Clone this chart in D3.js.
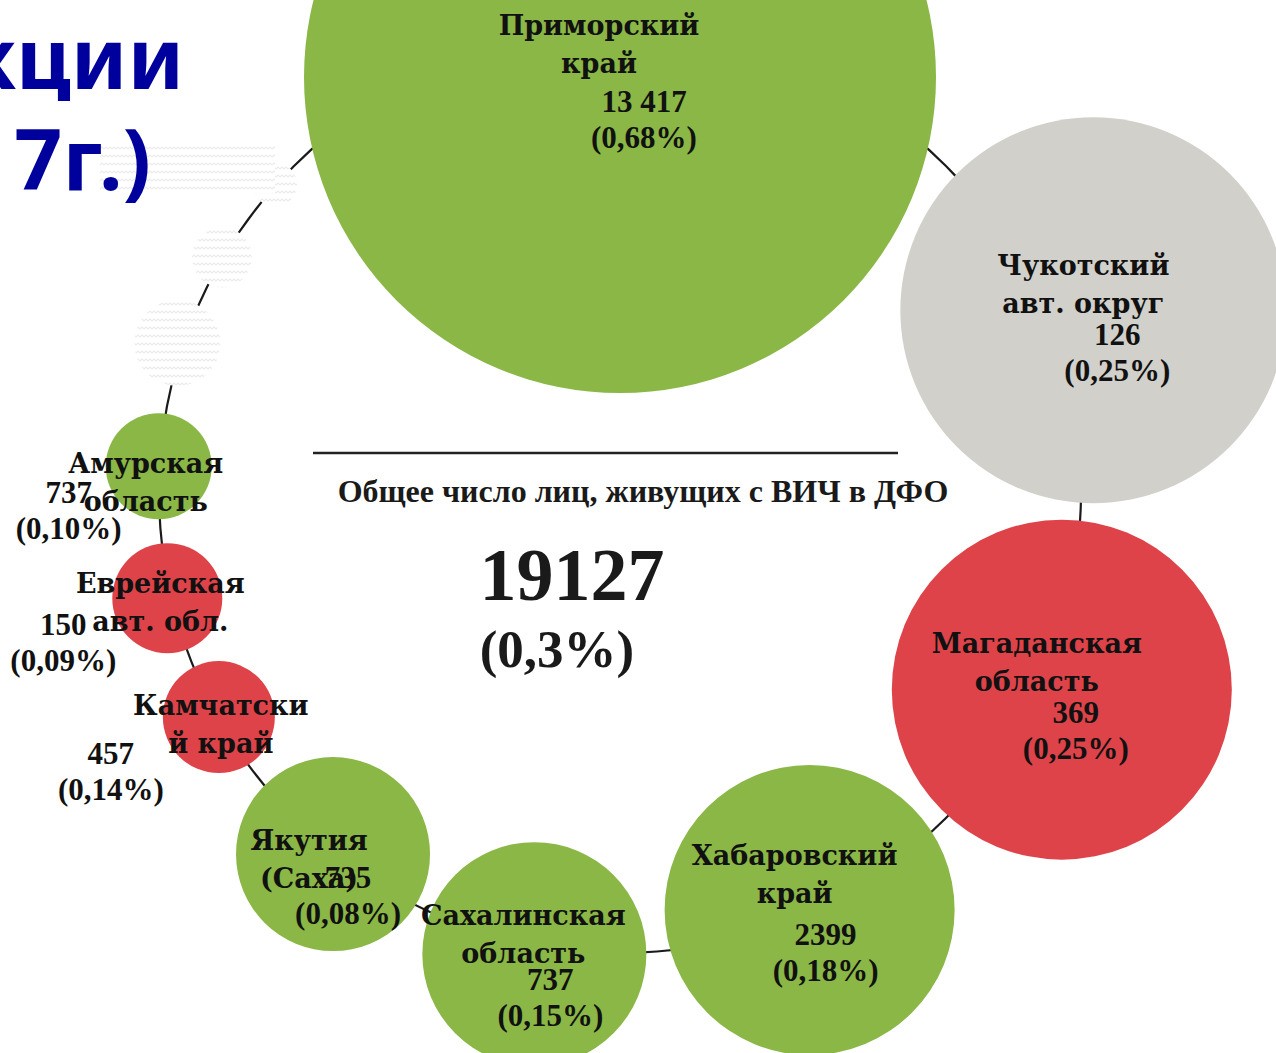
<!DOCTYPE html>
<html>
<head>
<meta charset="utf-8">
<script src="https://cdn.jsdelivr.net/npm/d3@7"></script>
<style>
  html, body { margin: 0; padding: 0; background: #fff; overflow: hidden; }
  svg { display: block; }
</style>
</head>
<body>
<svg id="chart"></svg>
<script>
// Data: regions of the Far Eastern Federal District (ДФО)
const nameLines = [
  ["Приморский", "край"],
  ["Чукотский", "авт. округ"],
  ["Магаданская", "область"],
  ["Хабаровский", "край"],
  ["Сахалинская", "область"],
  ["Якутия", "(Саха)"],
  ["Камчатски", "й край"],
  ["Еврейская", "авт. обл."],
  ["Амурская", "область"]
];
const hivCount = [13417, 126, 369, 2399, 737, 735, 457, 150, 737];
const hivShare = [0.68, 0.25, 0.25, 0.18, 0.15, 0.08, 0.14, 0.09, 0.10];
const level = ["выше", "нет", "ниже", "выше", "выше", "выше", "ниже", "ниже", "выше"];

const totalCount = 19127;
const totalShare = 0.3;
const totalLabel = "Общее число лиц, живущих с ВИЧ в ДФО";
const titleLines = ["кции", "7г.)"];

// Layout (ring of bubbles)
const W = 1276, H = 1053;
const ring = { cx: 620, cy: 492, r: 461 };
const bubbleAngle = [0, 69, 114.1, 155.6, 190.5, 218.4, 240.7, 256.8, 273.2];
const bubbleDist = [415, 507, 484, 459, 470, 462, 460, 465, 462];
const bubbleR = [316, 193, 170, 145, 112, 97, 56, 55, 53];
const nameOff = [[-21, -42], [-10, -35], [-25, -37], [-15, -45], [-11, -29], [-24, -4], [2, -2], [-7, -5], [-13, 7]];
const valOff = [[24, 35], [24, 35], [14, 33], [16, 35], [16, 36], [15, 34], [-108, 47], [-104, 37], [-90, 37]];
const ghostAngle = [288.6, 300.5, 311.7];
const ghostDist = [467, 462, 462];
const ghostR = [43, 30, 22];

const color = d3.scaleOrdinal()
  .domain(["выше", "нет", "ниже"])
  .range(["#8ab746", "#d1d0cb", "#de4349"]);

const rad = d3.scaleLinear().domain([0, 360]).range([0, 2 * Math.PI]);

const ru = d3.formatLocale({ decimal: ",", thousands: " ", grouping: [3], currency: ["", ""] });
const fmtCount = v => v >= 10000 ? ru.format(",")(v) : String(v);
const fmtShare = v => `(${ru.format(".2f")(v)}%)`;

const svg = d3.select("#chart").attr("width", W).attr("height", H);

// faint wavy pattern for decorative circles
const defs = svg.append("defs");
const pat = defs.append("pattern")
  .attr("id", "wave")
  .attr("patternUnits", "userSpaceOnUse")
  .attr("width", 8).attr("height", 8);
pat.append("rect").attr("width", 8).attr("height", 8).attr("fill", "#fff");
pat.append("path")
  .attr("d", "M0,5 L2,3 L4,5 L6,3 L8,5")
  .attr("fill", "none")
  .attr("stroke", "#ebebeb")
  .attr("stroke-width", 1.1);

const g = svg.append("g").attr("transform", `translate(${ring.cx},${ring.cy})`);

// title fragment (cut at the left edge)
svg.append("rect")
  .attr("x", 100).attr("y", 145).attr("width", 175).attr("height", 48)
  .attr("fill", "url(#wave)");

svg.selectAll("text.title")
  .data(titleLines)
  .join("text")
  .attr("class", "title")
  .attr("x", (d, i) => i === 0 ? 184 : 151)
  .attr("y", (d, i) => i === 0 ? 89 : 190)
  .attr("text-anchor", "end")
  .attr("font-family", "Noto Sans, sans-serif")
  .attr("font-weight", "bold")
  .attr("font-size", 84)
  .attr("fill", "#00009c")
  .text(d => d);

// connecting ring
g.append("circle")
  .attr("r", ring.r)
  .attr("fill", "none")
  .attr("stroke", "#1a1a1a")
  .attr("stroke-width", 2.2);

// decorative ghost circles
g.selectAll("circle.ghost")
  .data(ghostR)
  .join("circle")
  .attr("class", "ghost")
  .attr("cx", (d, i) => d3.pointRadial(rad(ghostAngle[i]), ghostDist[i])[0])
  .attr("cy", (d, i) => d3.pointRadial(rad(ghostAngle[i]), ghostDist[i])[1])
  .attr("r", d => d)
  .attr("fill", "url(#wave)");

const pos = nameLines.map((d, i) => d3.pointRadial(rad(bubbleAngle[i]), bubbleDist[i]));

g.selectAll("circle.bubble")
  .data(nameLines)
  .join("circle")
  .attr("class", "bubble")
  .attr("cx", (d, i) => pos[i][0])
  .attr("cy", (d, i) => pos[i][1])
  .attr("r", (d, i) => bubbleR[i])
  .attr("fill", (d, i) => color(level[i]));

// labels
const labels = g.selectAll("g.label")
  .data(nameLines)
  .join("g")
  .attr("class", "label")
  .attr("transform", (d, i) => `translate(${pos[i][0]},${pos[i][1]})`);

labels.each(function (d, i) {
  const el = d3.select(this);
  d.forEach((line, j) => {
    el.append("text")
      .attr("x", nameOff[i][0])
      .attr("y", nameOff[i][1] + j * 38)
      .attr("text-anchor", "middle")
      .attr("font-family", "DejaVu Serif, serif")
      .attr("font-weight", "bold")
      .attr("font-size", 27)
      .attr("fill", "#111")
      .text(line);
  });
  [fmtCount(hivCount[i]), fmtShare(hivShare[i])].forEach((line, j) => {
    el.append("text")
      .attr("x", valOff[i][0])
      .attr("y", valOff[i][1] + j * 36)
      .attr("text-anchor", "middle")
      .attr("font-family", "Liberation Serif, serif")
      .attr("font-weight", "bold")
      .attr("font-size", 31)
      .attr("fill", "#111")
      .text(line);
  });
});

// centre summary
svg.append("line")
  .attr("x1", 313).attr("x2", 898)
  .attr("y1", 453).attr("y2", 453)
  .attr("stroke", "#222")
  .attr("stroke-width", 2.5);

svg.append("text")
  .attr("x", 643).attr("y", 502)
  .attr("text-anchor", "middle")
  .attr("font-family", "Liberation Serif, serif")
  .attr("font-weight", "bold")
  .attr("font-size", 32)
  .attr("fill", "#1a1a1a")
  .text(totalLabel);

svg.append("text")
  .attr("x", 572).attr("y", 600)
  .attr("text-anchor", "middle")
  .attr("font-family", "Liberation Serif, serif")
  .attr("font-weight", "bold")
  .attr("font-size", 74)
  .attr("fill", "#1a1a1a")
  .text(totalCount);

svg.append("text")
  .attr("x", 557).attr("y", 667)
  .attr("text-anchor", "middle")
  .attr("font-family", "Liberation Serif, serif")
  .attr("font-weight", "bold")
  .attr("font-size", 53)
  .attr("fill", "#1a1a1a")
  .text(`(${ru.format(".1f")(totalShare)}%)`);
</script>
</body>
</html>
